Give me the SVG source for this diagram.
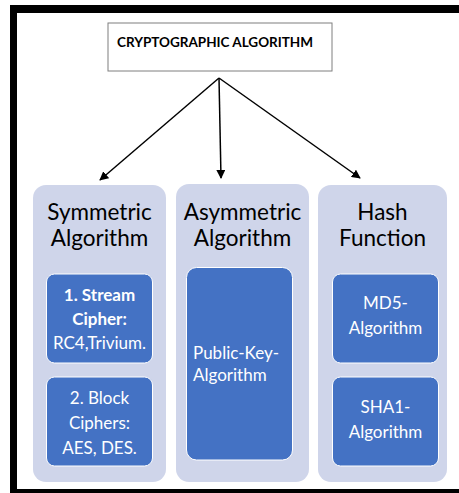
<svg xmlns="http://www.w3.org/2000/svg" width="459" height="493" viewBox="0 0 459 493">
<defs>
<style>
.frame{fill:#000}
.cont{fill:#CFD5EA}
.inner{fill:#4472C4;stroke:#fff;stroke-width:1}
.title{font-family:Lato,"Liberation Sans",sans-serif;font-size:22.5px;fill:#000;text-anchor:middle}
.it{font-family:Lato,"Liberation Sans",sans-serif;font-size:17px;fill:#fff;text-anchor:middle}
.b{font-weight:bold}
.conn{stroke:#000;stroke-width:1.5;fill:none;marker-end:url(#ah)}
</style>
<marker id="ah" viewBox="0 0 10 10" refX="9" refY="5" markerWidth="6" markerHeight="6" orient="auto" markerUnits="strokeWidth">
<path d="M0,0 L10,5 L0,10 z" fill="#000"/>
</marker>
</defs>
<rect width="459" height="493" fill="#fff"/>
<g id="frame">
<rect class="frame" x="10" y="5" width="449" height="8"/>
<rect class="frame" x="10" y="5" width="7" height="488"/>
<rect class="frame" x="10" y="489" width="449" height="4"/>
</g>
<g id="root">
<rect x="108" y="23" width="224" height="48" fill="#fff" stroke="#7f7f7f" stroke-width="1"/>
<text x="117" y="46.5" font-family="Lato,'Liberation Sans',sans-serif" font-size="13.5" font-weight="bold" fill="#000">CRYPTOGRAPHIC ALGORITHM</text>
</g>
<g id="connectors">
<line class="conn" x1="219" y1="78" x2="100" y2="180"/>
<line class="conn" x1="219" y1="78" x2="221" y2="178"/>
<line class="conn" x1="219" y1="78" x2="360" y2="178"/>
</g>
<g id="symmetric">
<rect class="cont" x="33" y="185" width="133" height="297" rx="13"/>
<text class="title" x="99.5" y="220">Symmetric</text>
<text class="title" x="99.5" y="246">Algorithm</text>
<rect class="inner" x="46.5" y="274" width="106" height="89" rx="8"/>
<text class="it b" x="99.5" y="301">1. Stream</text>
<text class="it b" x="99.5" y="325">Cipher:</text>
<text class="it" x="99.5" y="349">RC4,Trivium.</text>
<rect class="inner" x="46.5" y="377" width="106" height="89" rx="8"/>
<text class="it" x="99.5" y="404">2. Block</text>
<text class="it" x="99.5" y="429">Ciphers:</text>
<text class="it" x="99.5" y="454">AES, DES.</text>
</g>
<g id="asymmetric">
<rect class="cont" x="176" y="184" width="133" height="298" rx="13"/>
<text class="title" x="242.5" y="220">Asymmetric</text>
<text class="title" x="242.5" y="246">Algorithm</text>
<rect class="inner" x="186.5" y="267.5" width="106" height="192.5" rx="10"/>
<text class="it" x="193" y="359" text-anchor="start" style="text-anchor:start">Public-Key-</text>
<text class="it" x="193" y="381" style="text-anchor:start">Algorithm</text>
</g>
<g id="hash">
<rect class="cont" x="318" y="185" width="129" height="297" rx="13"/>
<text class="title" x="382.5" y="220">Hash</text>
<text class="title" x="382.5" y="246">Function</text>
<rect class="inner" x="332.5" y="274" width="106" height="89" rx="8"/>
<text class="it" x="385.5" y="309">MD5-</text>
<text class="it" x="385.5" y="334">Algorithm</text>
<rect class="inner" x="332.5" y="377" width="106" height="89" rx="8"/>
<text class="it" x="385.5" y="413">SHA1-</text>
<text class="it" x="385.5" y="438">Algorithm</text>
</g>
</svg>
